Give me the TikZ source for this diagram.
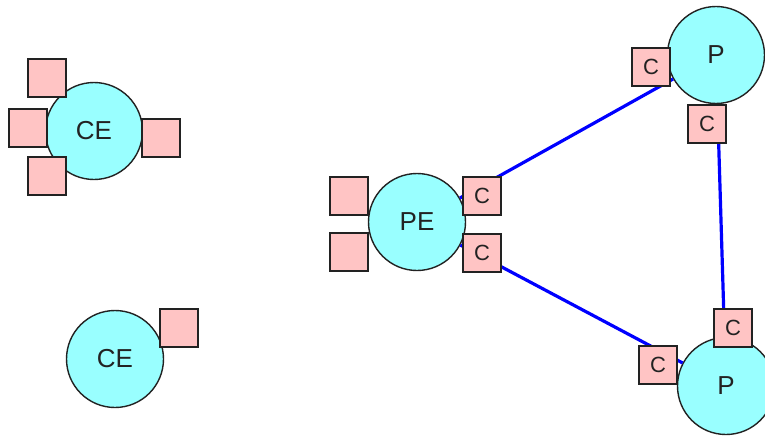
\documentclass[tikz,border=0pt]{standalone}
\usepackage{fontspec}
\setmainfont{Liberation Sans}
\definecolor{cyanfill}{HTML}{99FFFF}
\definecolor{pinkfill}{HTML}{FFC4C4}
\definecolor{edge}{HTML}{222222}
\begin{document}
\begin{tikzpicture}[x=1pt,y=-1pt,
  proc/.style={circle,draw=edge,line width=1.4pt,fill=cyanfill,minimum size=97pt,inner sep=0pt,text=edge,font=\fontsize{26}{26}\selectfont},
  port/.style={rectangle,draw=edge,line width=1.4pt,fill=pinkfill,minimum size=38pt,inner sep=0pt,text=edge,font=\fontsize{22}{22}\selectfont},
  link/.style={draw=blue,line width=3.2pt}]
\useasboundingbox (0,0) rectangle (765,436);
\fill[white] (0,0) rectangle (765,436);
% circles
\node[proc] (ce1) at (94,131) {CE};
\node[proc] (ce2) at (115,359) {CE};
\node[proc] (pe) at (417,222) {PE};
\node[proc] (p1) at (716,55) {P};
\node[proc] (p2) at (726,386) {P};
% connectors
\draw[link] (pe) -- (p1);
\draw[link] (pe) -- (p2);
\draw[link] (p1) -- (p2);
% ports
\node[port] (ce1a) at (47,78) {};
\node[port] (ce1b) at (28,128) {};
\node[port] (ce1c) at (47,176) {};
\node[port] (ce1d) at (161,138) {};
\node[port] (ce2a) at (179,328) {};
\node[port] (pea) at (349,196) {};
\node[port] (peb) at (349,252) {};
\node[port] (pec) at (482,196) {C};
\node[port] (ped) at (482,253) {C};
\node[port] (p1a) at (651,67) {C};
\node[port] (p1b) at (707,124) {C};
\node[port] (p2a) at (733,328) {C};
\node[port] (p2b) at (658,365) {C};
\end{tikzpicture}
\end{document}
